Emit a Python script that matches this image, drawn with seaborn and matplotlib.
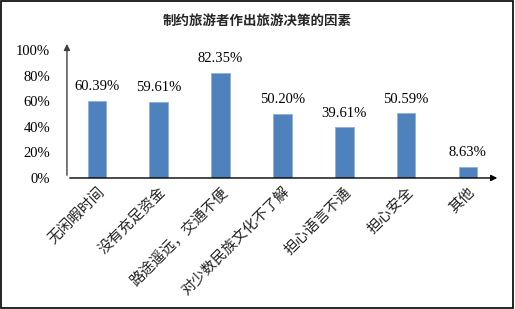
import matplotlib
matplotlib.use("Agg")
import matplotlib.pyplot as plt
import seaborn as sns
import pandas as pd
from matplotlib.patches import Rectangle

categories = ["无闲暇时间", "没有充足资金", "路途遥远，交通不便", "对少数民族文化不了解",
              "担心语言不通", "担心安全", "其他"]
values = [60.39, 59.61, 82.35, 50.20, 39.61, 50.59, 8.63]
yticks = [0, 20, 40, 60, 80, 100]
title = "制约旅游者作出旅游决策的因素"

sns.set_theme(style="white")
plt.rcParams["font.family"] = ["Liberation Serif", "Noto Sans CJK SC", "DejaVu Sans"]

df = pd.DataFrame({"cat": categories, "val": [v / 100 for v in values]})

fig = plt.figure(figsize=(5.15, 3.09), dpi=100)
ax = fig.add_axes([0.130, 0.424, 0.841, 0.414])

sns.barplot(data=df, x="cat", y="val", color="#4F81BD", saturation=1, width=0.30,
            edgecolor="#8FB0DA", linewidth=0.6, ax=ax)

ax.set_xlim(-0.485, 6.52)
ax.set_ylim(0, 1)
ax.set_yticks([t / 100 for t in yticks])
ax.set_yticklabels([f"{t}%" for t in yticks], fontsize=10.5, color="black")
ax.tick_params(axis="both", length=0, pad=12)
ax.tick_params(axis="x", pad=5)
ax.set_xticks(range(len(categories)))
ax.set_xticklabels(categories, rotation=45, ha="right", rotation_mode="anchor",
                   fontsize=10.5, family=["Noto Sans CJK SC", "DejaVu Sans"], color="#222222")
ax.set_xlabel("")
ax.set_ylabel("")
for s in ax.spines.values():
    s.set_visible(False)

for i, v in enumerate(values):
    ax.text(i, v / 100 + 0.06, f"{v:.2f}%", ha="center", va="bottom", fontsize=10.5, color="black")

# axis arrows
ax.annotate("", xy=(0, 1.07), xytext=(0, 0), xycoords="axes fraction",
            arrowprops=dict(arrowstyle="-|>", color="#404040", lw=1.0, mutation_scale=9),
            annotation_clip=False)
ax.annotate("", xy=(1.0, 0), xytext=(0, 0), xycoords="axes fraction",
            arrowprops=dict(arrowstyle="-|>", color="black", lw=1.0, mutation_scale=9),
            annotation_clip=False)

fig.text(0.5, 0.932, title, ha="center", va="center", fontsize=9.7, fontweight="bold",
         family=["Noto Sans CJK SC", "DejaVu Sans"])

fig.patches.append(Rectangle((0.002, 0.003), 0.995, 0.994, transform=fig.transFigure,
                             fill=False, edgecolor="black", linewidth=1.2))

fig.savefig("out.png", dpi=100)
